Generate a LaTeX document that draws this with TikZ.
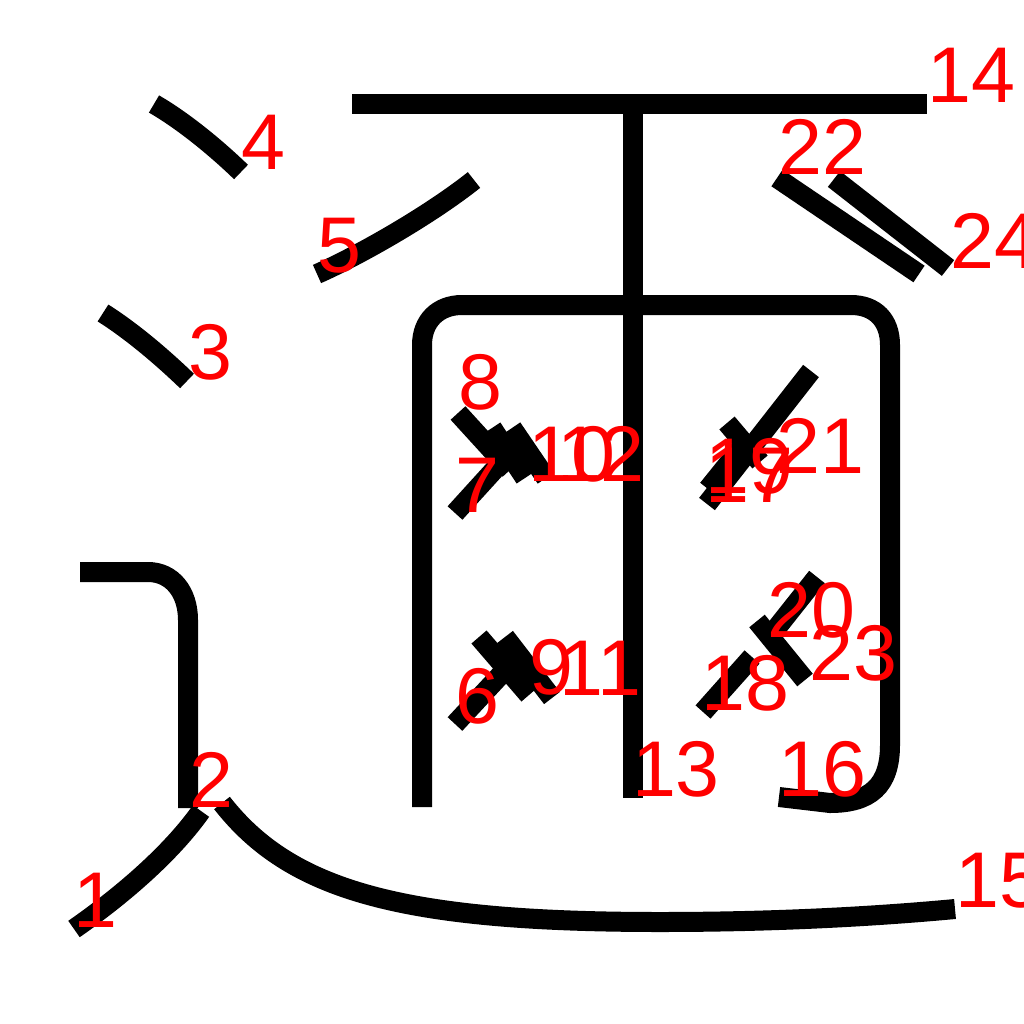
\documentclass[tikz,border=0pt]{standalone}
\usepackage{fontspec}
\setmainfont{Liberation Sans}
\begin{document}
\begin{tikzpicture}[x=1pt,y=-1pt,
  stroke/.style={line width=20pt,draw=black},
  num/.style={text=red,inner sep=0pt,font=\fontsize{79}{79}\selectfont}]
\useasboundingbox (0,0) rectangle (1024,1024);
% strokes
\draw[stroke] (201,811) .. controls (175,848) and (130,890) .. (74,929);
\draw[stroke] (80,572) -- (148,572) .. controls (172,572) and (188,592) .. (188,620) -- (188,808);
\draw[stroke] (103,313) .. controls (130,330) and (160,355) .. (187,381);
\draw[stroke] (154,104) .. controls (180,119) and (212,144) .. (241,172);
\draw[stroke] (317,274) .. controls (360,255) and (430,215) .. (474,180);
\draw[stroke] (455,724) -- (507,668);
\draw[stroke] (455,513) -- (505,458);
\draw[stroke] (458,413) -- (510,470);
\draw[stroke] (479,637) -- (529,695);
\draw[stroke] (492,428) -- (525,478);
\draw[stroke] (505,637) -- (552,698);
\draw[stroke] (512,428) -- (546,478);
\draw[stroke] (633,104) -- (633,798);
\draw[stroke] (352,104) -- (927,104);
\draw[stroke] (222,803) .. controls (290,890) and (400,922) .. (660,922) .. controls (780,922) and (880,916) .. (955,909);
\draw[stroke] (422,807) -- (422,345) .. controls (422,321) and (438,305) .. (462,305) -- (851,305) .. controls (875,305) and (890,320) .. (890,345) -- (890,745) .. controls (890,786) and (870,803) .. (830,803) -- (779,797);
\draw[stroke] (708,489) -- (745,443);
\draw[stroke] (703,712) -- (752,657);
\draw[stroke] (727,423) -- (760,462);
\draw[stroke] (817,577) -- (775,630);
\draw[stroke] (811,371) -- (707,504);
\draw[stroke] (777,178) -- (919,274);
\draw[stroke] (757,621) -- (805,680);
\draw[stroke] (834,179) -- (948,268);
% labels
\node[num] (n1) at (95,900) {1};
\node[num] (n2) at (211,780) {2};
\node[num] (n3) at (210,352) {3};
\node[num] (n4) at (263,142) {4};
\node[num] (n5) at (339,246) {5};
\node[num] (n6) at (477,696) {6};
\node[num] (n7) at (477,485) {7};
\node[num] (n8) at (480,382) {8};
\node[num] (n9) at (551,667) {9};
\node[num] (n10) at (572,454) {10};
\node[num] (n11) at (600,668) {11};
\node[num] (n12) at (601,454) {12};
\node[num] (n13) at (676,769) {13};
\node[num] (n14) at (971,75) {14};
\node[num] (n15) at (999,881) {15};
\node[num] (n16) at (822,769) {16};
\node[num] (n17) at (749,475) {17};
\node[num] (n18) at (745,683) {18};
\node[num] (n19) at (749,466) {19};
\node[num] (n20) at (811,610) {20};
\node[num] (n21) at (820,446) {21};
\node[num] (n22) at (822,147) {22};
\node[num] (n23) at (853,653) {23};
\node[num] (n24) at (994,241) {24};
\end{tikzpicture}
\end{document}
